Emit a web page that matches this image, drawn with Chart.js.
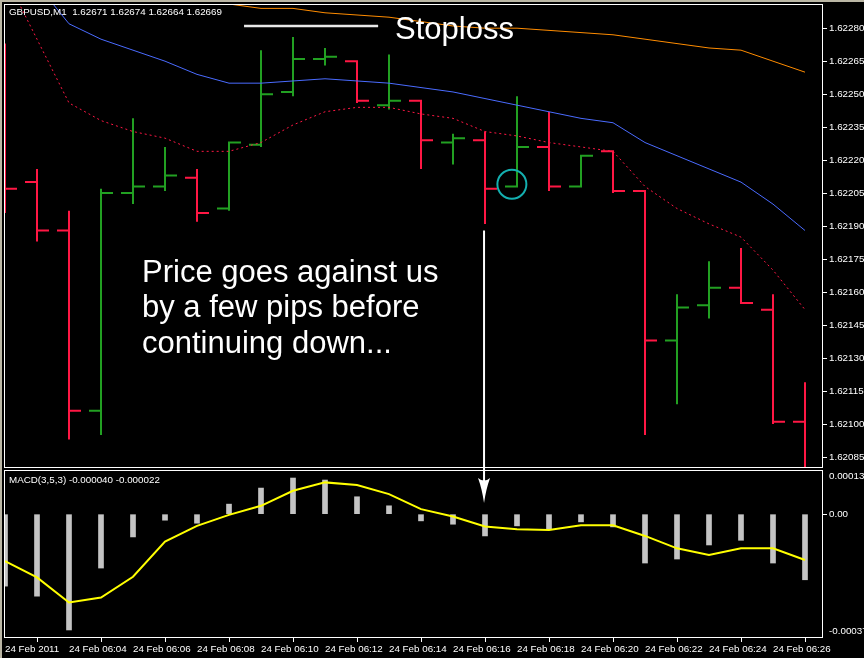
<!DOCTYPE html>
<html>
<head>
<meta charset="utf-8">
<title>GBPUSD M1</title>
<script src="https://cdn.jsdelivr.net/npm/chart.js@4.4.1/dist/chart.umd.min.js"></script>
<style>
  html, body { margin: 0; padding: 0; background: #000; }
  #wrap { position: relative; width: 864px; height: 658px; overflow: hidden; background: #000; }
  #edgeL { position: absolute; left: 0; top: 0; width: 2px; height: 658px; background: #bab6a4; }
  #edgeT { position: absolute; left: 0; top: 0; width: 864px; height: 2px; background: #bab6a4; }
  canvas { position: absolute; left: 0; }
  #priceCanvas { top: 0; }
  #macdCanvas { top: 470px; }
  .lbl { position: absolute; color: #fff; font-family: 'Liberation Sans', Arial, sans-serif; white-space: pre; }
  .small { font-size: 9.8px; line-height: 12px; }
  .big { font-size: 31px; line-height: 35.5px; }
</style>
</head>
<body>
<div id="wrap">
  <canvas id="priceCanvas" width="864" height="470"></canvas>
  <canvas id="macdCanvas" width="864" height="188"></canvas>
  <div id="edgeL"></div>
  <div id="edgeT"></div>
  <div class="lbl small" style="left:9px;top:6px;">GBPUSD,M1  1.62671 1.62674 1.62664 1.62669</div>
  <div class="lbl small" style="left:9px;top:474px;">MACD(3,5,3) -0.000040 -0.000022</div>
  <div class="lbl big" style="left:395px;top:10.5px;">Stoploss</div>
  <div class="lbl big" style="left:142px;top:253.5px;">Price goes against us<br>by a few pips before<br>continuing down...</div>
</div>
<script>
// ---- one-minute bars, 24 Feb 2011 ----
const barTimes = ['06:02','06:03','06:04','06:05','06:06','06:07','06:08','06:09','06:10','06:11','06:12','06:13','06:14',
                  '06:15','06:16','06:17','06:18','06:19','06:20','06:21','06:22','06:23','06:24','06:25','06:26','06:27'];
const open  = [1.62230,1.62210,1.62188,1.62106,1.62205,1.62208,1.62212,1.62198,1.62227,1.62251,1.62266,1.62265,1.62245,
               1.62247,1.62228,1.62229,1.62208,1.62226,1.62208,1.62224,1.62206,1.62138,1.62154,1.62162,1.62152,1.62101];
const high  = [1.62273,1.62216,1.62197,1.62207,1.62239,1.62226,1.62216,1.62228,1.62270,1.62276,1.62271,1.62265,1.62268,
               1.62247,1.62232,1.62233,1.62249,1.62242,1.62222,1.62224,1.62206,1.62159,1.62174,1.62180,1.62159,1.62119];
const low   = [1.62196,1.62183,1.62093,1.62095,1.62200,1.62206,1.62192,1.62197,1.62226,1.62249,1.62263,1.62246,1.62243,
               1.62216,1.62218,1.62191,1.62208,1.62206,1.62208,1.62205,1.62095,1.62109,1.62148,1.62155,1.62100,1.62070];
const close = [1.62207,1.62188,1.62106,1.62205,1.62208,1.62213,1.62196,1.62228,1.62250,1.62266,1.62267,1.62247,1.62247,
               1.62229,1.62230,1.62207,1.62226,1.62208,1.62222,1.62206,1.62138,1.62153,1.62162,1.62155,1.62101,1.62072];

// moving averages
const maFast = [1.62304,1.62275,1.62246,1.62238,1.62233,1.62230,1.62224,1.62224,1.62228,1.62236,1.62242,1.62244,1.62244,
                1.62241,1.62239,1.62233,1.62231,1.62228,1.62226,1.62224,1.62208,1.62198,1.62191,1.62185,1.62170,1.62152];
const maMid  = [1.62316,1.62300,1.62282,1.62275,1.62270,1.62265,1.62259,1.62255,1.62255,1.62256,1.62257,1.62256,1.62255,
                1.62253,1.62251,1.62248,1.62245,1.62242,1.62239,1.62237,1.62228,1.62222,1.62216,1.62210,1.62200,1.62188];
const maSlow = [1.62302,1.62300,1.62298,1.62296,1.62295,1.62293,1.62292,1.62291,1.62289,1.62289,1.62287,1.62286,1.62285,
                1.62283,1.62281,1.62280,1.62280,1.62279,1.62278,1.62277,1.62275,1.62273,1.62271,1.62270,1.62265,1.62260];

// MACD(3,5,3)
const macdHist = [-0.000215,-0.000245,-0.000346,-0.000161,-0.000068,-0.000018,-0.000027,0.000030,0.000078,0.000108,0.000102,0.000052,0.000025,
                  -0.000020,-0.000030,-0.000065,-0.000035,-0.000045,-0.000023,-0.000038,-0.000146,-0.000134,-0.000092,-0.000078,-0.000146,-0.000196];
const macdSignal = [-0.000140,-0.000189,-0.000264,-0.000249,-0.000187,-0.000082,-0.000035,-0.000002,0.000025,0.000070,0.000095,0.000087,0.000060,
                    0.000015,-0.000007,-0.000037,-0.000045,-0.000047,-0.000033,-0.000033,-0.000065,-0.000102,-0.000122,-0.000102,-0.000102,-0.000137];

// axis labels
const priceTicks = [1.62280,1.62265,1.62250,1.62235,1.62220,1.62205,1.62190,1.62175,1.62160,1.62145,1.62130,1.62115,1.62100,1.62085];
const priceRange = [1.62080, 1.62291];
const macdRange = [-0.00037, 0.000132];
const macdTickLabels = ['0.000132', '0.00', '-0.00037'];
const timeTickBars = [0,2,4,6,8,10,12,14,16,18,20,22,24];
const timeTickLabels = ['24 Feb 2011','24 Feb 06:04','24 Feb 06:06','24 Feb 06:08','24 Feb 06:10','24 Feb 06:12','24 Feb 06:14',
                        '24 Feb 06:16','24 Feb 06:18','24 Feb 06:20','24 Feb 06:22','24 Feb 06:24','24 Feb 06:26'];

// chart notes
const stopLine = { from: 7.47, to: 11.66, level: 1.62281 };
const entryMark = { bar: 16, shift: -0.16, price: 1.62209, radius: 14.5 };
const arrowNote = { bar: 14.97, fromPrice: 1.62188, toMacd: 0.0000334 };

// ---- drawing ----
const FONT = "'Liberation Sans', Arial, sans-serif";
Chart.defaults.font.family = FONT;
Chart.defaults.font.size = 9.8;
Chart.defaults.color = '#ffffff';

const UP = '#22a022', DOWN = '#ff1744';
const TICK_LEN = 0.375;            // open/close tick length, in bars
const X_MIN = -1 / 32, X_MAX = 818 / 32;
const barIdx = barTimes.map((_, i) => i);

// one polyline per bar: open tick, high-low stem, close tick
function ohlcPoints(rising) {
  const pts = [];
  barIdx.forEach(i => {
    if ((close[i] >= open[i]) !== rising) return;
    pts.push({ x: i - TICK_LEN, y: open[i] }, { x: i, y: open[i] }, { x: i, y: high[i] },
             { x: i, y: low[i] }, { x: i, y: close[i] }, { x: i + TICK_LEN, y: close[i] },
             { x: i + TICK_LEN, y: null });
  });
  return pts;
}
const series = arr => barIdx.map(i => ({ x: i, y: arr[i] }));

const noPad = s => { s.paddingTop = 0; s.paddingBottom = 0; s.paddingLeft = 0; s.paddingRight = 0; };

const framePlugin = {
  id: 'frame',
  afterDatasetsDraw(chart) {
    const { ctx, chartArea: a } = chart;
    ctx.save();
    ctx.strokeStyle = '#ffffff';
    ctx.lineWidth = 1;
    ctx.strokeRect(a.left + 0.5, a.top + 0.5, a.right - a.left - 1, a.bottom - a.top - 1);
    ctx.restore();
  }
};

const priceNotes = {
  id: 'priceNotes',
  afterDraw(chart) {
    const { ctx, scales: { x, y } } = chart;
    ctx.save();
    // stop-loss marker
    ctx.strokeStyle = '#e8e8e8';
    ctx.lineWidth = 2.5;
    ctx.beginPath();
    ctx.moveTo(x.getPixelForValue(stopLine.from), y.getPixelForValue(stopLine.level));
    ctx.lineTo(x.getPixelForValue(stopLine.to), y.getPixelForValue(stopLine.level));
    ctx.stroke();
    // entry bar circle
    ctx.strokeStyle = '#14b0b0';
    ctx.lineWidth = 2;
    ctx.beginPath();
    ctx.arc(x.getPixelForValue(entryMark.bar + entryMark.shift), y.getPixelForValue(entryMark.price), entryMark.radius, 0, Math.PI * 2);
    ctx.stroke();
    // arrow shaft, continues into the MACD pane
    const ax = x.getPixelForValue(arrowNote.bar);
    ctx.strokeStyle = '#ffffff';
    ctx.lineWidth = 2;
    ctx.beginPath();
    ctx.moveTo(ax, y.getPixelForValue(arrowNote.fromPrice));
    ctx.lineTo(ax, chart.height);
    ctx.stroke();
    ctx.restore();
  }
};

const macdNotes = {
  id: 'macdNotes',
  afterDraw(chart) {
    const { ctx, scales: { x, y } } = chart;
    const ax = x.getPixelForValue(arrowNote.bar);
    const tip = y.getPixelForValue(arrowNote.toMacd);
    ctx.save();
    ctx.strokeStyle = '#ffffff';
    ctx.fillStyle = '#ffffff';
    ctx.lineWidth = 2;
    ctx.beginPath();
    ctx.moveTo(ax, 0);
    ctx.lineTo(ax, tip - 20);
    ctx.stroke();
    ctx.beginPath();
    ctx.moveTo(ax - 6, tip - 25);
    ctx.quadraticCurveTo(ax - 2, tip - 14, ax, tip);
    ctx.quadraticCurveTo(ax + 2, tip - 14, ax + 6, tip - 25);
    ctx.quadraticCurveTo(ax, tip - 20, ax - 6, tip - 25);
    ctx.fill();
    ctx.restore();
  }
};

new Chart(document.getElementById('priceCanvas'), {
  type: 'line',
  data: {
    datasets: [
      { data: series(maSlow), borderColor: '#ff8c00', borderWidth: 1, pointRadius: 0, tension: 0, order: 0 },
      { data: series(maMid), borderColor: '#4a6bff', borderWidth: 1, pointRadius: 0, tension: 0, order: 0 },
      { data: series(maFast), borderColor: DOWN, borderWidth: 1, borderDash: [2, 3], pointRadius: 0, tension: 0, order: 0 },
      { data: ohlcPoints(true), borderColor: UP, borderWidth: 2, pointRadius: 0, tension: 0, spanGaps: false, clip: 0, order: 1 },
      { data: ohlcPoints(false), borderColor: DOWN, borderWidth: 2, pointRadius: 0, tension: 0, spanGaps: false, clip: 0, order: 1 }
    ]
  },
  options: {
    responsive: false,
    animation: false,
    devicePixelRatio: 1,
    layout: { padding: { left: 4, top: 4, right: 0, bottom: 2 } },
    plugins: { legend: { display: false }, tooltip: { enabled: false } },
    scales: {
      x: { type: 'linear', min: X_MIN, max: X_MAX, offset: false, display: false },
      y: {
        type: 'linear', position: 'right', min: priceRange[0], max: priceRange[1],
        afterBuildTicks: s => { s.ticks = priceTicks.map(v => ({ value: v })); },
        afterFit: s => { s.width = 41; noPad(s); },
        ticks: { color: '#ffffff', padding: 2, callback: v => v.toFixed(5) },
        grid: { drawOnChartArea: false, drawTicks: true, tickLength: 4, color: '#ffffff' },
        border: { display: false }
      }
    }
  },
  plugins: [framePlugin, priceNotes]
});

new Chart(document.getElementById('macdCanvas'), {
  type: 'line',
  data: {
    datasets: [
      { data: series(macdSignal), borderColor: '#ffff00', borderWidth: 2, pointRadius: 0, tension: 0, order: 0 },
      { type: 'bar', data: series(macdHist), backgroundColor: '#c4c4c4', barThickness: 5, order: 1 }
    ]
  },
  options: {
    responsive: false,
    animation: false,
    devicePixelRatio: 1,
    layout: { padding: { left: 4, top: 0, right: 0, bottom: 0 } },
    plugins: { legend: { display: false }, tooltip: { enabled: false } },
    scales: {
      x: {
        type: 'linear', position: 'bottom', min: X_MIN, max: X_MAX, offset: false,
        afterBuildTicks: s => { s.ticks = timeTickBars.map(v => ({ value: v })); },
        afterFit: s => { s.height = 20; noPad(s); },
        ticks: { color: '#ffffff', align: 'start', maxRotation: 0, autoSkip: false, padding: 1,
                 callback: (v, i) => timeTickLabels[i] },
        grid: { drawOnChartArea: false, drawTicks: true, tickLength: 4, color: '#ffffff' },
        border: { display: false }
      },
      y: {
        type: 'linear', position: 'right', min: macdRange[0], max: macdRange[1],
        afterBuildTicks: s => {
          const inset = (macdRange[1] - macdRange[0]) * 0.04;
          s.ticks = [macdRange[1] - inset, 0, macdRange[0] + inset].map(v => ({ value: v }));
        },
        afterFit: s => { s.width = 41; noPad(s); },
        ticks: { color: '#ffffff', padding: 2, callback: (v, i) => macdTickLabels[i] },
        grid: { drawOnChartArea: false, drawTicks: true, tickLength: 4,
                color: c => (c.tick && c.tick.value === 0) ? '#ffffff' : 'rgba(0,0,0,0)' },
        border: { display: false }
      }
    }
  },
  plugins: [framePlugin, macdNotes]
});
</script>
</body>
</html>
